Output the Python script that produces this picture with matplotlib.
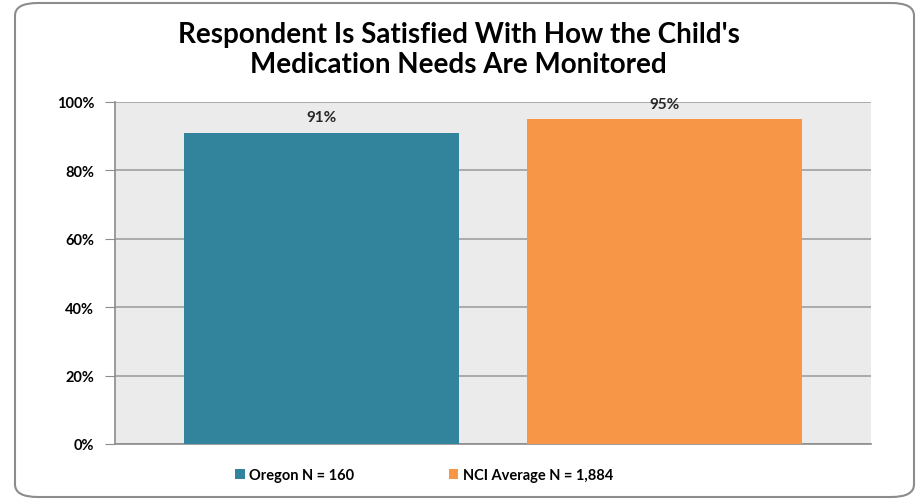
import matplotlib.pyplot as plt
from matplotlib.patches import FancyBboxPatch, Patch

plt.rcParams['font.family'] = ['Lato', 'DejaVu Sans']

series = ["Oregon N = 160", "NCI Average N = 1,884"]
values = [91, 95]
colors = ["#31849B", "#F79646"]
yticks = [0, 20, 40, 60, 80, 100]

fig = plt.figure(figsize=(9.17, 5.02), dpi=100)
ax = fig.add_axes([115 / 917, 1 - 445 / 502, 756 / 917, 342 / 502])

# rounded frame around the whole chart
frame = FancyBboxPatch((15 / 917, 4 / 502), 899 / 917, 494 / 502,
                       boxstyle="round,pad=0,rounding_size=0.025",
                       transform=fig.transFigure, facecolor="none",
                       edgecolor="#8c8c8c", linewidth=1.5, zorder=0)
fig.patches.append(frame)

ax.set_facecolor("#EBEBEB")
for i, (v, c) in enumerate(zip(values, colors)):
    ax.bar(i, v, width=0.8, color=c, zorder=3)
    ax.text(i, v + 2.5, f"{v}%", ha="center", va="bottom",
            fontsize=11, fontweight="bold", color="#262626")

ax.set_xlim(-0.6, 1.6)
ax.set_ylim(0, 100)
ax.set_yticks(yticks)
ax.set_yticklabels([f"{t}%" for t in yticks], fontsize=10.5, fontweight="bold")
ax.set_xticks([])
ax.yaxis.grid(True, color="#a0a0a0", linewidth=1.2, zorder=1)
ax.tick_params(axis="y", length=7, color="#8c8c8c", pad=8)
for s in ["top", "right"]:
    ax.spines[s].set_visible(False)
for s in ["left", "bottom"]:
    ax.spines[s].set_color("#8c8c8c")
    ax.spines[s].set_linewidth(1.2)

fig.text(0.5, 1 - 50 / 502, "Respondent Is Satisfied With How the Child's\nMedication Needs Are Monitored",
         ha="center", va="center", fontsize=20, fontweight="bold",
         linespacing=1.2, color="black")

handles = [Patch(facecolor=c, edgecolor="none") for c in colors]
fig.legend(handles, series, loc="center", bbox_to_anchor=(424 / 917, 1 - 476 / 502),
           ncol=2, frameon=False, handlelength=0.65, handleheight=0.65,
           handletextpad=0.3, columnspacing=6.5,
           prop={"size": 10.5, "weight": "bold"})

fig.savefig("out.png", dpi=100)
